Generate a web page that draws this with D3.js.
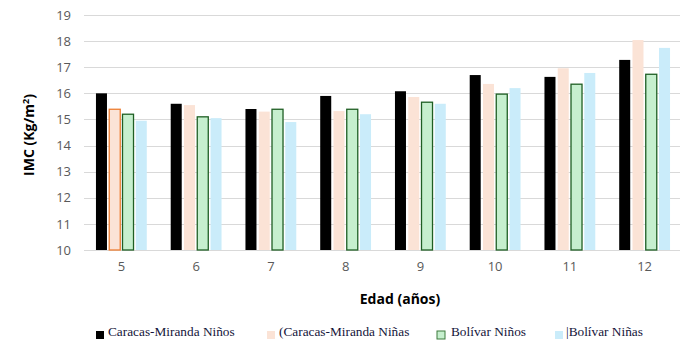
<!DOCTYPE html>
<html>
<head>
<meta charset="utf-8">
<script src="https://cdn.jsdelivr.net/npm/d3@7"></script>
<style>
  body { margin: 0; background: #fff; }
  svg { display: block; }
</style>
</head>
<body>
<svg width="680" height="351"></svg>
<script>
// ages on the x axis
var ages = ["5", "6", "7", "8", "9", "10", "11", "12"];
var seriesNames = ["Caracas-Miranda Niños", "Caracas-Miranda Niñas", "Bolívar Niños", "Bolívar Niñas"];
var legendLabels = ["Caracas-Miranda Niños", "(Caracas-Miranda Niñas", "Bolívar Niños", "|Bolívar Niñas"];
var ccsNinos = [16.0, 15.6, 15.4, 15.9, 16.08, 16.7, 16.63, 17.28];
var ccsNinas = [15.39, 15.55, 15.3, 15.32, 15.86, 16.36, 16.96, 18.04];
var bolNinos = [15.2, 15.1, 15.39, 15.39, 15.66, 15.97, 16.35, 16.73];
var bolNinas = [14.95, 15.05, 14.9, 15.2, 15.6, 16.2, 16.78, 17.74];
var yTicks = [10, 11, 12, 13, 14, 15, 16, 17, 18, 19];

var fills = ["#000000", "#FBE3D6", "#C6EFCE", "#CAECFA"];
var strokes = ["none", "none", "#1F5F24", "none"];

var allSeries = [ccsNinos, ccsNinas, bolNinos, bolNinas];

var svg = d3.select("svg");

var x = d3.scaleBand()
    .domain(ages)
    .range([84, 682])
    .paddingInner(0.32)
    .paddingOuter(0.16);

var xInner = d3.scaleBand()
    .domain(d3.range(4))
    .range([0, x.bandwidth()])
    .paddingInner(0.17);

var y = d3.scaleLinear()
    .domain([10, 19])
    .range([250, 15]);

// gridlines
svg.append("g")
    .selectAll("line")
    .data(yTicks)
    .enter().append("line")
    .attr("x1", 84)
    .attr("x2", 680)
    .attr("y1", function (d) { return Math.round(y(d)) + 0.5; })
    .attr("y2", function (d) { return Math.round(y(d)) + 0.5; })
    .attr("stroke", "#d9d9d9")
    .attr("stroke-width", 1);

// y axis labels
var yAxis = svg.append("g")
    .attr("transform", "translate(84,0)")
    .call(d3.axisLeft(y).tickValues(yTicks).tickSize(0).tickPadding(13));
yAxis.select(".domain").remove();
yAxis.selectAll("text")
    .attr("fill", "#595959")
    .style("font-family", "'Open Sans', 'DejaVu Sans', sans-serif")
    .style("font-size", "13px");

// x axis labels
var xAxis = svg.append("g")
    .attr("transform", "translate(0,250)")
    .call(d3.axisBottom(x).tickSize(0).tickPadding(12));
xAxis.select(".domain").remove();
xAxis.selectAll("text")
    .attr("fill", "#595959")
    .style("font-family", "'Open Sans', 'DejaVu Sans', sans-serif")
    .style("font-size", "13px");

// bars
var rows = [];
ages.forEach(function (a, i) {
    allSeries.forEach(function (s, j) {
        rows.push({ age: a, idx: i, s: j, v: s[i] });
    });
});

svg.append("g")
    .selectAll("rect")
    .data(rows)
    .enter().append("rect")
    .attr("x", function (d) { return x(d.age) + xInner(d.s); })
    .attr("y", function (d) { return y(d.v); })
    .attr("width", xInner.bandwidth())
    .attr("height", function (d) { return y(10) - y(d.v); })
    .attr("fill", function (d) { return fills[d.s]; })
    .attr("stroke", function (d) {
        if (d.s == 1 && d.idx == 0) return "#ED7D31";
        return strokes[d.s];
    })
    .attr("stroke-width", 1.3);

// axis titles
svg.append("text")
    .attr("transform", "translate(34,135) rotate(-90)")
    .attr("text-anchor", "middle")
    .style("font-family", "'Open Sans', 'DejaVu Sans', sans-serif")
    .style("font-size", "14px")
    .style("font-weight", "bold")
    .attr("fill", "#000")
    .html("IMC (Kg/m<tspan dy='-5' font-size='9px'>2</tspan><tspan dy='5'>)</tspan>");

svg.append("text")
    .attr("x", 400)
    .attr("y", 304)
    .attr("text-anchor", "middle")
    .style("font-family", "'Open Sans', 'DejaVu Sans', sans-serif")
    .style("font-size", "14px")
    .style("font-weight", "bold")
    .attr("fill", "#000")
    .text("Edad (años)");

// legend
var legendX = [96, 267, 437, 555];
var legendTextX = [108, 279, 451, 566];
var legend = svg.append("g");
seriesNames.forEach(function (n, j) {
    legend.append("rect")
        .attr("x", legendX[j])
        .attr("y", 331)
        .attr("width", 8)
        .attr("height", 8)
        .attr("fill", fills[j])
        .attr("stroke", j == 2 ? "#3C7A3C" : "none")
        .attr("stroke-width", 1);
    legend.append("text")
        .attr("x", legendTextX[j])
        .attr("y", 336)
        .style("font-family", "'Liberation Serif', 'Times New Roman', serif")
        .style("font-size", "13.3px")
        .attr("fill", "#14143a")
        .text(legendLabels[j]);
});
</script>
</body>
</html>
